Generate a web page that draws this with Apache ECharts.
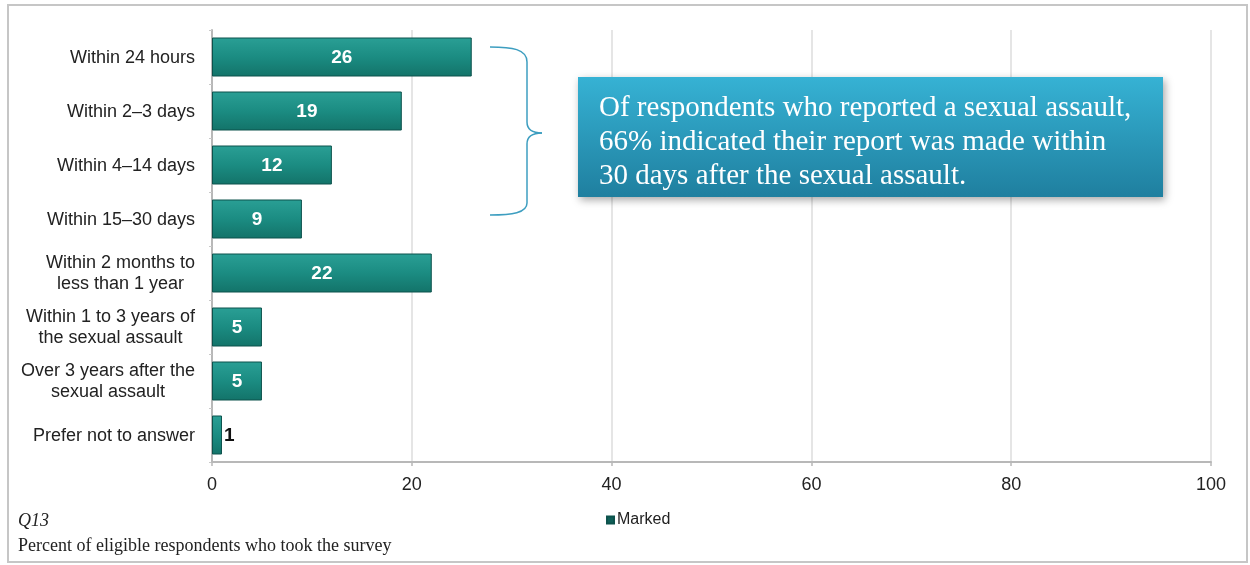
<!DOCTYPE html>
<html>
<head>
<meta charset="utf-8">
<script src="https://cdn.jsdelivr.net/npm/echarts@6/dist/echarts.min.js"></script>
<style>
html,body{margin:0;padding:0;background:#fff;}
#chart{width:1250px;height:565px;}
</style>
</head>
<body>
<div id="chart"></div>
<script>
var categories = [
  "Within 24 hours",
  "Within 2\u20133 days",
  "Within 4\u201314 days",
  "Within 15\u201330 days",
  "Within 2 months to\nless than 1 year",
  "Within 1 to 3 years of\nthe sexual assault",
  "Over 3 years after the\nsexual assault",
  "Prefer not to answer"
];
var markedValues = [26, 19, 12, 9, 22, 5, 5, 1];
var xTicks = [0, 20, 40, 60, 80, 100];
var seriesName = "Marked";
var noteText = "Of respondents who reported a sexual assault,\n66% indicated their report was made within\n30 days after the sexual assault.";
var footQ = "Q13";
var footText = "Percent of eligible respondents who took the survey";

var chart = echarts.init(document.getElementById('chart'));

var barData = markedValues.map(function (v) {
  var small = v < 3;
  return {
    value: v,
    label: small ? {position: 'right', color: '#111', distance: 2} : {position: 'inside', color: '#fff'}
  };
});

var braceStyle = {fill: 'none', stroke: '#3d9ec0', lineWidth: 1.5};
function bez(x1, y1, c1x, c1y, c2x, c2y, x2, y2) {
  return {type: 'bezierCurve', silent: true, z: 10,
    shape: {x1: x1, y1: y1, cpx1: c1x, cpy1: c1y, cpx2: c2x, cpy2: c2y, x2: x2, y2: y2},
    style: braceStyle};
}
function seg(x1, y1, x2, y2) {
  return {type: 'line', silent: true, z: 10, shape: {x1: x1, y1: y1, x2: x2, y2: y2}, style: braceStyle};
}

var option = {
  backgroundColor: '#fff',
  animation: false,
  grid: {left: 212, right: 39, top: 30, bottom: 103, containLabel: false},
  legend: {
    data: [seriesName],
    left: 601,
    top: 507,
    icon: 'rect',
    itemWidth: 7,
    itemHeight: 7,
    itemGap: 4,
    textStyle: {fontFamily: 'Liberation Sans, Arial', fontSize: 16, color: '#222', padding: [0, 0, 0, -2]},
    itemStyle: {color: '#0f5f58'}
  },
  xAxis: {
    type: 'value',
    min: 0,
    max: 100,
    interval: 20,
    axisLine: {show: true, lineStyle: {color: '#b8b8b8', width: 2}},
    axisTick: {show: true, length: 4, lineStyle: {color: '#b8b8b8', width: 1.5}},
    splitLine: {show: true, lineStyle: {color: '#dcdcdc', width: 1.5}},
    axisLabel: {
      margin: 14,
      fontFamily: 'Liberation Sans, Arial',
      fontSize: 18,
      color: '#222',
      formatter: function (v) { return xTicks.indexOf(v) >= 0 ? String(v) : ''; }
    }
  },
  yAxis: {
    type: 'category',
    data: categories,
    inverse: true,
    axisLine: {show: true, lineStyle: {color: '#b8b8b8', width: 2}},
    axisTick: {show: true, length: 3, lineStyle: {color: '#c8c8c8', width: 1}},
    axisLabel: {
      margin: 17,
      formatter: function (v) {
        return v.split('\n').map(function (l) { return '{c|' + l + '}'; }).join('\n');
      },
      rich: {
        c: {align: 'center', fontFamily: 'Liberation Sans, Arial', fontSize: 18, color: '#222', lineHeight: 21, padding: [2, 0, 0, 0]}
      }
    }
  },
  series: [{
    name: seriesName,
    type: 'bar',
    data: barData,
    barWidth: 39,
    itemStyle: {
      color: new echarts.graphic.LinearGradient(0, 0, 0, 1, [
        {offset: 0, color: '#2a9f95'},
        {offset: 0.5, color: '#1b8c82'},
        {offset: 1, color: '#137369'}
      ]),
      borderColor: '#0d524c',
      borderWidth: 1
    },
    label: {
      show: true,
      fontFamily: 'Liberation Sans, Arial',
      fontWeight: 'bold',
      fontSize: 19,
      offset: [0, 1]
    }
  }],
  graphic: [
    {
      type: 'rect',
      silent: true,
      shape: {x: 8, y: 5, width: 1239, height: 557},
      style: {fill: 'none', stroke: '#c6c6c6', lineWidth: 2},
      z: 0
    },
    bez(490, 47, 512, 47, 527, 49, 527, 62),
    seg(527, 62, 527, 122),
    bez(527, 122, 527, 130, 532, 133, 542, 133),
    bez(542, 133, 532, 133, 527, 136, 527, 144),
    seg(527, 144, 527, 203),
    bez(527, 203, 527, 213, 512, 215, 490, 215),
    {
      type: 'rect',
      silent: true,
      shape: {x: 578, y: 77, width: 585, height: 120},
      style: {
        fill: new echarts.graphic.LinearGradient(0, 0, 0, 1, [
          {offset: 0, color: '#36b2d4'},
          {offset: 1, color: '#1f7f9f'}
        ]),
        shadowBlur: 8,
        shadowColor: 'rgba(0,0,0,0.35)',
        shadowOffsetX: 2,
        shadowOffsetY: 3
      },
      z: 10
    },
    {
      type: 'text',
      silent: true,
      left: 599,
      top: 91,
      style: {
        text: noteText,
        fill: '#fff',
        font: '29px "Liberation Serif", "Times New Roman", serif',
        lineHeight: 34
      },
      z: 11
    },
    {
      type: 'text',
      silent: true,
      left: 18,
      top: 512,
      style: {text: footQ, fill: '#222', font: 'italic 18px "Liberation Serif", "Times New Roman", serif'},
      z: 11
    },
    {
      type: 'text',
      silent: true,
      left: 18,
      top: 537,
      style: {text: footText, fill: '#222', font: '18px "Liberation Serif", "Times New Roman", serif'},
      z: 11
    }
  ]
};
chart.setOption(option);
</script>
</body>
</html>
